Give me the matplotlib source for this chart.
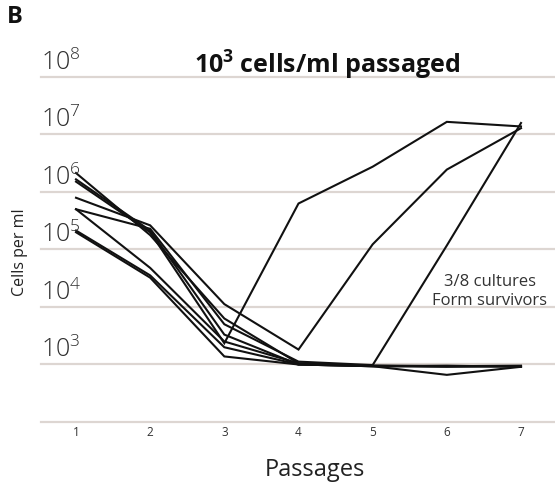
import numpy as np
import matplotlib
matplotlib.use("Agg")
import matplotlib.pyplot as plt
import matplotlib.transforms as mtransforms

plt.rcParams['font.family'] = ['Open Sans', 'DejaVu Sans']
plt.rcParams['mathtext.fontset'] = 'custom'
plt.rcParams['mathtext.rm'] = 'Open Sans'
plt.rcParams['mathtext.bf'] = 'Open Sans:bold'

# Passage number and log10(cells per ml) for each of the eight cultures
passages = [1, 2, 3, 4, 5, 6, 7]
culture_a = [6.33, 5.25, 3.80, 3.02, 2.98, 2.97, 2.98]
culture_b = [6.22, 5.33, 3.52, 3.00, 2.97, 2.82, 2.96]
culture_c = [6.18, 5.30, 3.37, 5.80, 6.44, 7.22, 7.14]
culture_d = [5.90, 5.42, 4.05, 3.26, 5.09, 6.39, 7.11]
culture_e = [5.70, 5.36, 3.70, 3.05, 2.99, 5.07, 7.20]
culture_f = [5.70, 4.68, 3.40, 3.02, 2.98, 2.97, 2.97]
culture_g = [5.33, 4.55, 3.30, 3.00, 2.97, 2.98, 2.96]
culture_h = [5.30, 4.51, 3.14, 3.00, 2.97, 2.96, 2.97]
cultures = [culture_a, culture_b, culture_c, culture_d,
            culture_e, culture_f, culture_g, culture_h]

decades = [2, 3, 4, 5, 6, 7, 8]
decade_labels = [r'$\mathregular{10^{%d}}$' % d for d in decades]
x_ticks = [1, 2, 3, 4, 5, 6, 7]

fig = plt.figure(figsize=(5.55, 4.86), dpi=100)
ax = fig.add_axes([41 / 555, (486 - 422) / 486, 1 - 41 / 555, (422 - 77) / 486])

ax.set_yscale('log')
ax.set_ylim(10 ** 2, 10 ** 8)
ax.set_xlim(1 - 35 / 74.17, 7 + 34 / 74.17)

grid_color = '#ddd6d2'
for d in decades:
    ax.axhline(10 ** d, color=grid_color, lw=1.6, zorder=1, clip_on=False)

for c in cultures:
    ax.plot(passages, 10 ** np.array(c), color='#111111', lw=1.5,
            zorder=3, clip_on=False, solid_joinstyle='miter')

for s in ax.spines.values():
    s.set_visible(False)
ax.set_yticks([])
ax.set_yticks([], minor=True)
ax.set_xticks(x_ticks)
ax.set_xticklabels([str(t) for t in x_ticks], fontsize=8.5, color='#333333')
ax.tick_params(axis='x', length=0, pad=3)

# decade labels sitting just above each gridline (skip the baseline)
trans = mtransforms.blended_transform_factory(ax.transAxes, ax.transData)
for d, lab in zip(decades, decade_labels):
    if d == 2:
        continue
    ax.text(0.0, 10 ** d * 1.06, lab, transform=trans, ha='left', va='bottom',
            fontsize=18, color='#2e2e2e', fontweight='light')

fig.text(315 / 555, 1 - 470 / 486, 'Passages', ha='center', va='center',
         fontsize=17, color='#222222')
fig.text(20 / 555, 1 - 252 / 486, 'Cells per ml', rotation=90, ha='center',
         va='center', fontsize=11.5, color='#222222')

fig.text(327 / 555, 1 - 65 / 486, r'$\mathbf{10^{3}}$' + ' cells/ml passaged',
         ha='center', va='center', fontsize=18, fontweight='bold', color='#111111')
fig.text(7 / 555, 1 - 17 / 486, 'B', ha='left', va='center', fontsize=17,
         fontweight='bold', color='#111111')

ax.text(6.58, 10 ** 4.27, '3/8 cultures\nForm survivors', ha='center',
        va='center', fontsize=12, color='#333333', linespacing=1.25)

fig.savefig('out.png', dpi=100, facecolor='white')
